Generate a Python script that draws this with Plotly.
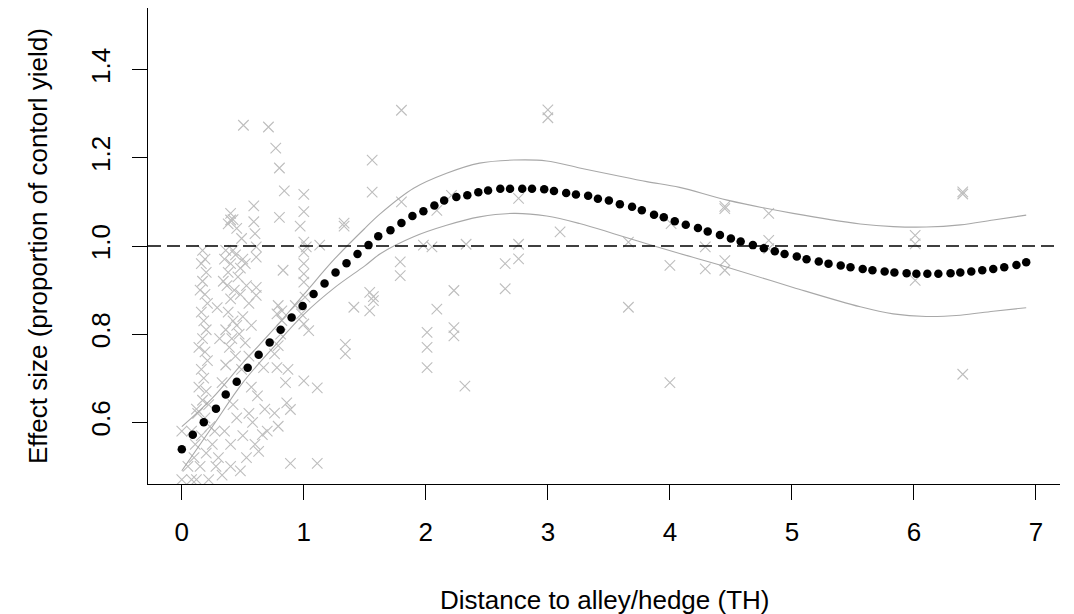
import plotly.graph_objects as go

# ---------------- data ----------------
scatter_x = [
    # right / middle region
    1.80, 3.00, 3.00, 1.56, 1.56, 1.80, 2.09, 2.21, 2.76, 3.10,
    1.98, 2.05, 2.33, 2.76, 2.76, 2.65, 2.65, 3.66, 1.79, 1.79,
    2.23, 2.09, 3.66, 2.01, 2.01, 2.01, 2.23, 2.23, 2.32, 4.00,
    4.00, 4.01, 1.57, 1.57, 4.45, 4.45, 4.81, 4.29, 4.29, 4.45,
    4.45, 4.81, 4.81, 6.01, 6.01, 6.01, 6.40, 6.40, 6.40,
    # x ~ 0.4 - 1.6
    0.505, 0.71, 0.77, 0.80, 0.84, 1.00, 1.00, 0.80, 0.97, 1.33,
    1.33, 0.59, 0.59, 0.60, 0.40, 0.40, 0.49, 1.00, 1.13, 1.02,
    1.00, 1.00, 1.00, 1.00, 0.83, 0.61, 0.61, 0.61, 0.61, 0.79,
    0.82, 0.78, 0.82, 0.98, 1.00, 1.04, 0.81, 0.79, 0.76, 0.67,
    0.78, 0.87, 0.85, 1.00, 1.11, 0.86, 0.76, 0.89, 0.79, 0.66,
    0.63, 0.89, 1.11, 1.34, 1.34, 1.41, 1.54, 1.54, 1.01, 0.93,
    # dense cluster, column near 0.17
    0.17, 0.19, 0.16, 0.20, 0.17, 0.15, 0.19, 0.21, 0.16, 0.18,
    0.20, 0.17, 0.14, 0.19, 0.21, 0.16, 0.18, 0.14, 0.20, 0.17,
    0.22, 0.13, 0.19, 0.23, 0.16, 0.11,
    # dense cluster, column near 0.45
    0.42, 0.45, 0.38, 0.35, 0.40, 0.44, 0.48, 0.50, 0.38, 0.46,
    0.42, 0.52, 0.36, 0.37, 0.43, 0.48, 0.53, 0.40, 0.34, 0.38,
    0.42, 0.45, 0.50, 0.36, 0.47, 0.41, 0.52, 0.39, 0.44, 0.36,
    0.49, 0.31, 0.29, 0.55, 0.57, 0.33, 0.57, 0.55,
    # below the fitted curve near the origin
    0.25, 0.30, 0.35, 0.40, 0.45, 0.50, 0.55, 0.33, 0.28, 0.20,
    0.15, 0.10, 0.12, 0.40, 0.48, 0.60, 0.58, 0.53, 0.22, 0.05,
    0.08, 0.08, 0.12, 0.00, 0.00, 0.27, 0.42, 0.62, 0.68, 0.70,
]
scatter_y = [
    1.308, 1.309, 1.291, 1.195, 1.122, 1.100, 1.081, 1.115, 1.108, 1.032,
    1.002, 0.998, 1.004, 1.004, 0.971, 0.960, 0.903, 1.009, 0.964, 0.933,
    0.899, 0.857, 0.861, 0.804, 0.770, 0.724, 0.815, 0.796, 0.682, 0.956,
    0.690, 1.051, 0.876, 0.885, 1.085, 1.090, 1.074, 0.998, 0.948, 0.967,
    0.945, 1.013, 0.994, 1.024, 1.005, 0.922, 1.123, 1.118, 0.709,
    1.274, 1.270, 1.222, 1.177, 1.125, 1.117, 1.078, 1.065, 1.045, 1.052,
    1.045, 1.091, 1.055, 1.028, 1.059, 1.074, 1.017, 1.009, 1.002, 0.998,
    0.986, 0.960, 0.937, 0.918, 0.945, 0.998, 0.975, 0.906, 0.888, 0.865,
    0.853, 0.846, 0.831, 0.846, 0.823, 0.808, 0.800, 0.774, 0.755, 0.724,
    0.724, 0.720, 0.690, 0.694, 0.678, 0.644, 0.621, 0.629, 0.591, 0.572,
    0.534, 0.507, 0.507, 0.777, 0.755, 0.861, 0.895, 0.853, 0.884, 0.865,
    0.99, 0.97, 0.96, 0.94, 0.92, 0.90, 0.89, 0.87, 0.85, 0.83,
    0.81, 0.79, 0.77, 0.76, 0.74, 0.72, 0.70, 0.68, 0.67, 0.65,
    0.64, 0.62, 0.61, 0.59, 0.57, 0.55,
    1.06, 1.04, 1.05, 0.97, 0.96, 0.98, 0.95, 0.97, 0.94, 0.93,
    0.99, 0.96, 0.99, 0.91, 0.90, 0.89, 0.91, 0.88, 0.92, 0.85,
    0.83, 0.82, 0.84, 0.81, 0.80, 0.79, 0.78, 0.77, 0.75, 0.73,
    0.72, 0.79, 0.86, 0.87, 0.82, 0.69, 0.68, 0.75,
    0.55, 0.52, 0.58, 0.55, 0.61, 0.57, 0.62, 0.48, 0.50, 0.53,
    0.50, 0.52, 0.47, 0.50, 0.49, 0.55, 0.60, 0.52, 0.47, 0.50,
    0.47, 0.58, 0.63, 0.58, 0.47, 0.58, 0.64, 0.66, 0.63, 0.58,
]

fit_x = [
    0.00, 0.09, 0.18, 0.28, 0.36, 0.45, 0.54, 0.63, 0.72, 0.81,
    0.90, 0.99, 1.08, 1.17, 1.26, 1.35, 1.44, 1.53, 1.61, 1.71,
    1.80, 1.89, 1.98, 2.07, 2.15, 2.25, 2.34, 2.43, 2.51, 2.61,
    2.69, 2.79, 2.87, 2.97, 3.05, 3.15, 3.23, 3.33, 3.41, 3.50,
    3.59, 3.69, 3.77, 3.87, 3.95, 4.04, 4.13, 4.23, 4.31, 4.41,
    4.50, 4.58, 4.68, 4.77, 4.86, 4.94, 5.04, 5.12, 5.22, 5.30,
    5.40, 5.48, 5.58, 5.66, 5.76, 5.84, 5.94, 6.02, 6.11, 6.20,
    6.30, 6.38, 6.47, 6.56, 6.65, 6.74, 6.84, 6.92,
]
fit_y = [
    0.539, 0.572, 0.600, 0.631, 0.663, 0.692, 0.724, 0.753, 0.781, 0.810,
    0.838, 0.864, 0.891, 0.915, 0.940, 0.961, 0.982, 1.002, 1.022, 1.036,
    1.052, 1.068, 1.079, 1.092, 1.103, 1.111, 1.115, 1.122, 1.126, 1.130,
    1.130, 1.130, 1.130, 1.129, 1.125, 1.120, 1.117, 1.114, 1.107, 1.103,
    1.095, 1.089, 1.081, 1.071, 1.065, 1.056, 1.048, 1.041, 1.033, 1.025,
    1.017, 1.010, 1.002, 0.995, 0.988, 0.982, 0.976, 0.970, 0.965, 0.960,
    0.956, 0.952, 0.948, 0.945, 0.942, 0.940, 0.938, 0.937, 0.937, 0.937,
    0.938, 0.940, 0.942, 0.945, 0.948, 0.952, 0.957, 0.963,
]

ci_x = [0.00, 0.25, 0.50, 0.75, 1.00, 1.25, 1.50, 1.63, 1.90, 2.17,
        2.44, 2.72, 2.99, 3.26, 3.54, 3.81, 4.08, 4.47, 5.01, 5.56,
        5.83, 6.10, 6.38, 6.65, 6.92]
ci_upper = [0.590, 0.655, 0.735, 0.810, 0.890, 0.970, 1.040, 1.074, 1.131, 1.165,
            1.188, 1.195, 1.193, 1.177, 1.161, 1.146, 1.133, 1.104, 1.074, 1.050,
            1.044, 1.043, 1.048, 1.059, 1.070]
ci_lower = [0.490, 0.590, 0.690, 0.770, 0.845, 0.905, 0.955, 0.983, 1.021, 1.047,
            1.066, 1.074, 1.068, 1.051, 1.028, 1.005, 0.983, 0.952, 0.906, 0.862,
            0.846, 0.840, 0.843, 0.852, 0.860]

ref_line = 1.0
x_ticks = [0, 1, 2, 3, 4, 5, 6, 7]
y_ticks = [0.6, 0.8, 1.0, 1.2, 1.4]
y_tick_text = ["0.6", "0.8", "1.0", "1.2", "1.4"]
x_range = [-0.277, 7.197]
y_range = [0.46, 1.54]
x_title = "Distance to alley/hedge (TH)"
y_title = "Effect size (proportion of contorl yield)"

FONT = "Liberation Sans, Arial, sans-serif"
FS = 26

fig = go.Figure()
fig.add_trace(go.Scatter(
    x=scatter_x, y=scatter_y, mode="markers",
    marker=dict(symbol="x-thin-open", size=10.5, color="#BEBEBE",
                line=dict(color="#BEBEBE", width=1.1)),
    showlegend=False, hoverinfo="skip"))
fig.add_trace(go.Scatter(
    x=ci_x, y=ci_upper, mode="lines", line=dict(color="#A8A8A8", width=1.1, shape="spline"),
    showlegend=False, hoverinfo="skip"))
fig.add_trace(go.Scatter(
    x=ci_x, y=ci_lower, mode="lines", line=dict(color="#A8A8A8", width=1.1, shape="spline"),
    showlegend=False, hoverinfo="skip"))
fig.add_trace(go.Scatter(
    x=fit_x, y=fit_y, mode="markers",
    marker=dict(symbol="circle", size=8.5, color="black"),
    showlegend=False, hoverinfo="skip"))
fig.add_hline(y=ref_line, line=dict(color="black", width=1.3, dash="13px,6px"))

axis_common = dict(showgrid=False, zeroline=False, showline=True, linecolor="black",
                   linewidth=1, ticks="outside", ticklen=15, tickwidth=1,
                   tickcolor="black", mirror=False,
                   tickfont=dict(family=FONT, size=FS, color="black"))
fig.update_xaxes(range=x_range, tickvals=x_ticks, ticktext=[str(v) for v in x_ticks],
                 ticklabelstandoff=10, **axis_common)
fig.update_yaxes(range=y_range, tickvals=y_ticks, ticktext=y_tick_text,
                 tickangle=-90, ticklabelstandoff=12, **axis_common)

fig.add_annotation(text=x_title, xref="paper", yref="paper", x=0.5, y=0,
                   yshift=-116, showarrow=False, xanchor="center", yanchor="middle",
                   font=dict(family=FONT, size=FS, color="black"))
fig.add_annotation(text=y_title, xref="paper", yref="paper", x=0, y=0.5,
                   xshift=-110, showarrow=False, textangle=-90,
                   xanchor="center", yanchor="middle",
                   font=dict(family=FONT, size=FS, color="black"))

# page body has an 8px default margin, so the figure is sized to fit inside it
fig.update_layout(width=1066, height=606, plot_bgcolor="white", paper_bgcolor="white",
                  margin=dict(l=140, r=14, t=0, b=130), showlegend=False)

fig.write_html("out.html")
